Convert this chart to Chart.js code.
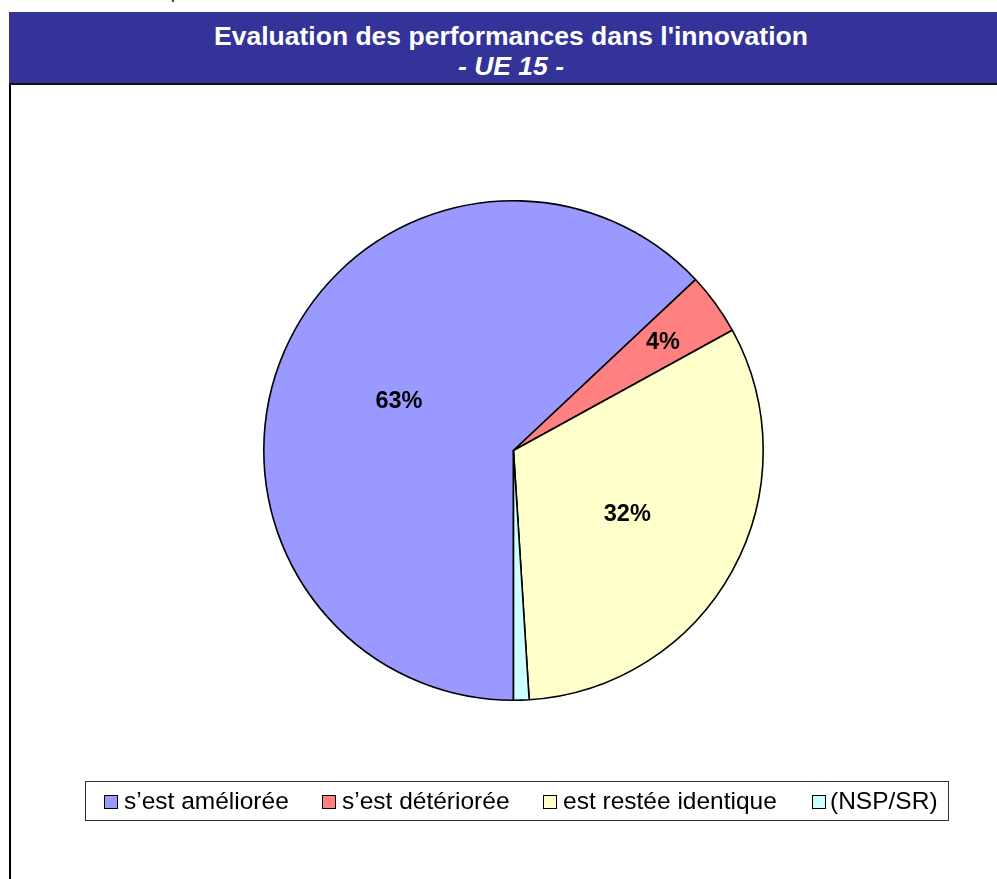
<!DOCTYPE html>
<html><head><meta charset="utf-8">
<script src="https://cdn.jsdelivr.net/npm/chart.js@4.4.1/dist/chart.umd.min.js"></script>
<style>
html,body{margin:0;padding:0;background:#fff;width:997px;height:879px;overflow:hidden;position:relative;font-family:"Liberation Sans",Arial,sans-serif;}
#frame{position:absolute;left:9px;top:12px;width:1010px;height:880px;border-left:2px solid #000;box-sizing:border-box;}
#header{position:absolute;left:9px;top:12px;width:1004px;height:73px;background:#333399;border-bottom:2px solid #111;box-sizing:border-box;color:#fff;text-align:center;font-weight:bold;font-size:26.5px;line-height:30px;padding-top:9px;}
#header .sub{font-style:italic;}
#top{position:absolute;left:171px;top:-16px;font-size:17px;color:#000;}
#wrap{position:absolute;left:11px;top:85px;width:986px;height:794px;}
#legend{position:absolute;left:85px;top:781px;width:864px;height:40px;border:1px solid #333;box-sizing:border-box;font-size:24.5px;color:#000;}
.item{position:absolute;top:0;height:38px;line-height:38px;white-space:nowrap;}
.box{position:absolute;top:13px;width:12px;height:12px;border:1px solid #000;}
.item span.t{position:absolute;top:0;}
</style></head>
<body>
<div id="top">p</div>
<div id="frame"></div>
<div id="header"><div>Evaluation des performances dans l'innovation</div><div class="sub">- UE 15 -</div></div>
<div id="wrap"><canvas id="c" width="986" height="794"></canvas></div>
<div id="legend"></div>
<script>
const categories = ["s\u2019est améliorée", "s\u2019est détériorée", "est restée identique", "(NSP/SR)"];
const values = [63, 4, 32, 1];
const valueLabels = ["63%", "4%", "32%", ""];
const colors = ["#9999FF", "#FF8080", "#FFFFCC", "#CCFFFF"];

// HTML legend built from the arrays
const legendX = [18, 236, 457, 726];
const lg = document.getElementById('legend');
categories.forEach((c, i) => {
  const it = document.createElement('div');
  it.className = 'item';
  it.style.left = legendX[i] + 'px';
  it.innerHTML = '<div class="box" style="background:' + colors[i] + '"></div><span class="t" style="left:' + (i === 3 ? 18 : 20) + 'px">' + c + '</span>';
  lg.appendChild(it);
});

const labelPlugin = {
  id: 'sliceLabels',
  afterDatasetsDraw(chart) {
    const ctx = chart.ctx;
    const meta = chart.getDatasetMeta(0);
    ctx.save();
    ctx.font = 'bold 23.5px "Liberation Sans", Arial, sans-serif';
    ctx.fillStyle = '#000';
    ctx.textAlign = 'center';
    ctx.textBaseline = 'middle';
    meta.data.forEach((arc, i) => {
      if (!valueLabels[i]) return;
      const p = arc.getProps(['x','y','startAngle','endAngle','outerRadius']);
      const mid = (p.startAngle + p.endAngle) / 2;
      const f = values[i] < 10 ? 0.74 : (values[i] > 50 ? 0.5 : 0.52);
      const r = p.outerRadius * f;
      ctx.fillText(valueLabels[i], p.x + Math.cos(mid) * r, p.y + Math.sin(mid) * r + 1);
    });
    ctx.restore();
  }
};

new Chart(document.getElementById('c'), {
  type: 'pie',
  data: {
    labels: categories,
    datasets: [{ data: values, backgroundColor: colors, borderColor: '#000', borderWidth: 1.6 }]
  },
  options: {
    responsive: false,
    animation: false,
    rotation: 180,
    layout: { padding: { left: 252, right: 233, top: 115, bottom: 178 } },
    plugins: { legend: { display: false }, tooltip: { enabled: false }, title: { display: false } }
  },
  plugins: [labelPlugin]
});
</script>
</body></html>
